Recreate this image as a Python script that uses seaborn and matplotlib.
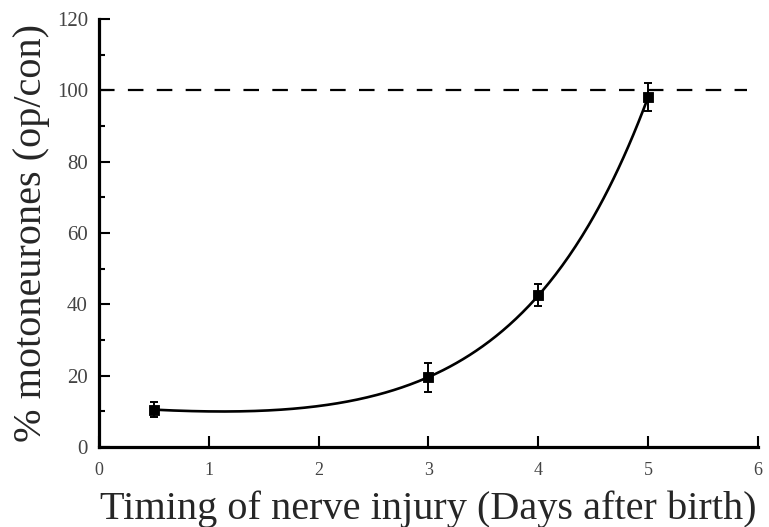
import numpy as np
import pandas as pd
import seaborn as sns
from matplotlib import pyplot as plt

# values
days = [0.5, 3, 4, 5]
pct = [10.5, 19.5, 42.6, 98.1]
err = [2.0, 4.0, 3.0, 4.0]
control_level = 100
x_ticks = [0, 1, 2, 3, 4, 5, 6]
y_ticks = [0, 20, 40, 60, 80, 100, 120]

df = pd.DataFrame({'days': days, 'pct': pct, 'err': err})

# smooth fit through the points: a + b*x + c*exp(0.8x), least squares
k = 0.8
A = np.column_stack([np.ones(len(df)), df.days, np.exp(k * df.days)])
coef, *_ = np.linalg.lstsq(A, df.pct, rcond=None)
xs = np.linspace(df.days.min(), df.days.max(), 300)
fit = pd.DataFrame({'days': xs,
                    'pct': coef[0] + coef[1] * xs + coef[2] * np.exp(k * xs)})

sns.set_style('ticks')
plt.rcParams['font.family'] = ['Liberation Serif', 'DejaVu Serif']

fig = plt.figure(figsize=(7.69, 5.27), dpi=100)
ax = fig.add_axes([0.1287, 0.1518, 0.857, 0.812])

sns.lineplot(data=fit, x='days', y='pct', color='black', lw=1.9, ax=ax)
ax.hlines(control_level, 0, 5.9, colors='black', lw=1.6,
          linestyles=(0, (7, 6)))
ax.errorbar(df.days, df.pct, yerr=df.err, fmt='none', ecolor='black',
            elinewidth=1.4, capsize=2.8, capthick=1.4, zorder=3)
sns.scatterplot(data=df, x='days', y='pct', marker='s', s=60,
                color='black', edgecolor='black', zorder=4, ax=ax)

ax.set_xlim(0, 6)
ax.set_ylim(0, 120)
ax.set_xticks(x_ticks)
ax.set_yticks(y_ticks)
ax.set_yticks(np.arange(10, 120, 20), minor=True)
ax.tick_params(axis='both', which='major', direction='in', length=8,
               width=1.5, labelcolor='#444444', color='black')
ax.tick_params(axis='y', which='minor', direction='in', length=4.5,
               width=1.5, color='black')
ax.tick_params(axis='y', which='major', pad=8, labelsize=15)
ax.tick_params(axis='x', which='major', pad=11, labelsize=13)

sns.despine(ax=ax)
for s in ['left', 'bottom']:
    ax.spines[s].set_linewidth(2.3)
    ax.spines[s].set_color('black')

ax.set_xlabel('Timing of nerve injury (Days after birth)', fontsize=29,
              labelpad=8)
ax.set_ylabel('% motoneurones (op/con)', fontsize=29, labelpad=5)

fig.savefig('out.png', dpi=100)
